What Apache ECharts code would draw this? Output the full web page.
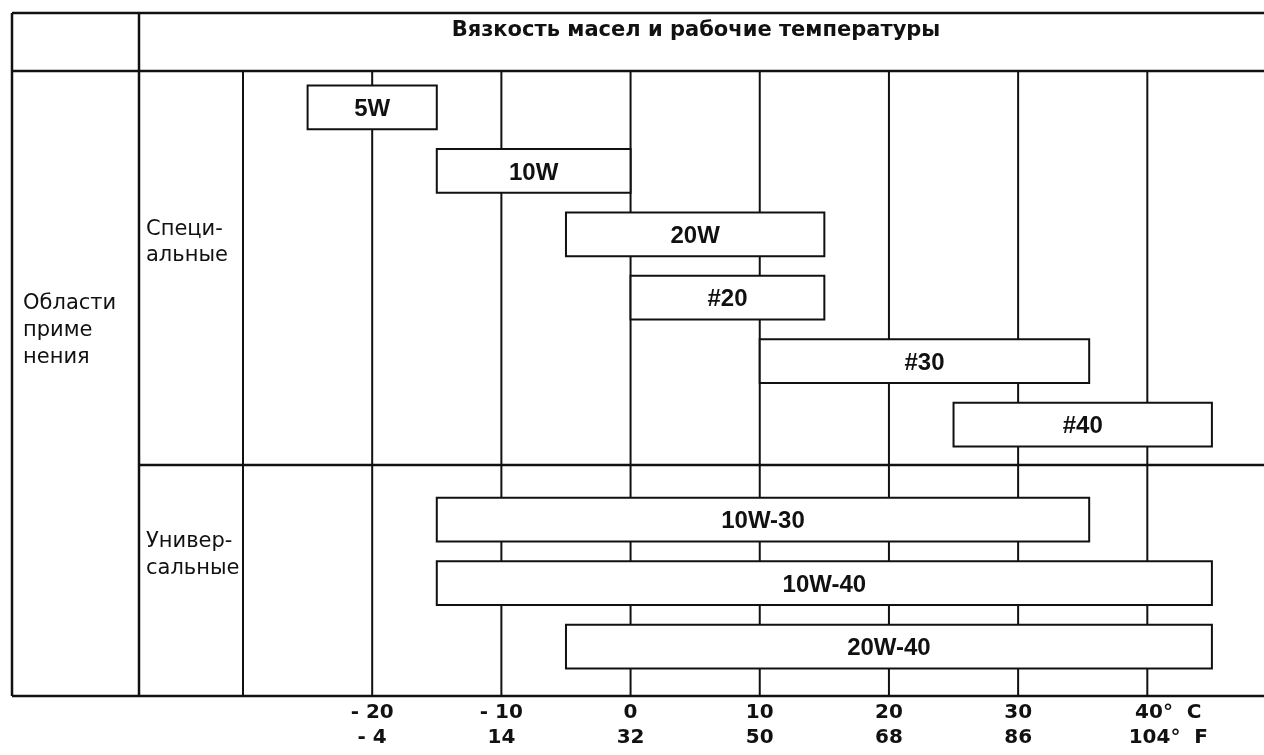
<!DOCTYPE html>
<html>
<head>
<meta charset="utf-8">
<script src="https://cdn.jsdelivr.net/npm/echarts@6/dist/echarts.min.js"></script>
<style>
  html, body { margin: 0; padding: 0; background: #fff; overflow: hidden; }
  #chart { width: 1264px; height: 755px; }
</style>
</head>
<body>
<div id="chart"></div>
<script>
// Oil grades and their working temperature ranges, °C
const oilNames = ['5W', '10W', '20W', '#20', '#30', '#40', '10W-30', '10W-40', '20W-40'];
const tempFrom = [-25, -15, -5, 0, 10, 25, -15, -15, -5];
const tempTo   = [-15, 0, 15, 15, 35.5, 45, 35.5, 45, 45];
// 0 = special-purpose oils, 1 = multi-purpose oils
const oilGroup = [0, 0, 0, 0, 0, 0, 1, 1, 1];
const groupNames = ['Специ-\nальные', 'Универ-\nсальные'];

// Temperature scale: gridlines and tick labels
const celsiusTicks = [-20, -10, 0, 10, 20, 30, 40];
const celsiusLabels = ['- 20', '- 10', '0', '10', '20', '30', '40°  C'];
const fahrenheitLabels = ['- 4', '14', '32', '50', '68', '86', '104°  F'];

const title = 'Вязкость масел и рабочие температуры';
const areaTitle = 'Области\nприме\nнения';

const INK = '#111';
const SANS = '"Liberation Sans", Arial, Helvetica, sans-serif';
const WIDE = '"DejaVu Sans", Verdana, sans-serif';

// Row slot: consecutive within a group, half-row gap between groups
const rows = oilNames.map((name, i) => [tempFrom[i], tempTo[i], i + 0.5 * oilGroup[i], name]);

const chart = echarts.init(document.getElementById('chart'), null, { renderer: 'canvas' });

const line = (x1, y1, x2, y2, w) => ({
  type: 'line', silent: true, z: 10,
  shape: { x1, y1, x2, y2 },
  style: { stroke: INK, lineWidth: w || 2 }
});
const label = (text, x, y, font, align, vAlign, lh) => ({
  type: 'text', silent: true, z: 10,
  style: {
    text, x, y, fill: INK, align: align || 'left', verticalAlign: vAlign || 'top',
    font, lineHeight: lh
  }
});

chart.setOption({
  backgroundColor: '#fff',
  animation: false,
  grid: { left: 243, right: 0, top: 71, bottom: 59, containLabel: false },
  xAxis: {
    type: 'value',
    min: -30, max: 48.8, interval: 10,
    axisLine: { show: false },
    axisTick: { show: false },
    splitLine: { show: false },
    axisLabel: {
      margin: 4,
      showMinLabel: true, showMaxLabel: true,
      formatter: (v) => {
        const i = celsiusTicks.findIndex(t => Math.abs(t - v) < 1e-6);
        if (i < 0) return '';
        const key = i === celsiusTicks.length - 1 ? 'e' : 'n';
        return '{' + key + '|' + celsiusLabels[i] + '}\n{' + key + '|' + fahrenheitLabels[i] + '}';
      },
      rich: {
        n: { fontFamily: WIDE, fontWeight: 'bold', fontSize: 20, color: INK, lineHeight: 25 },
        e: { fontFamily: WIDE, fontWeight: 'bold', fontSize: 20, color: INK, lineHeight: 25, padding: [0, 0, 0, 42] }
      }
    }
  },
  yAxis: {
    type: 'value', inverse: true,
    min: -0.575, max: 9.28,
    show: false,
    splitLine: { show: false }
  },
  series: [{
    // vertical temperature gridlines, full height of the plot
    type: 'custom',
    z: 1,
    silent: true,
    data: celsiusTicks.map(t => [t]),
    encode: { x: 0 },
    renderItem: (params, api) => {
      const x = api.coord([api.value(0), 0])[0];
      const cs = params.coordSys;
      return {
        type: 'line',
        shape: { x1: x, y1: cs.y, x2: x, y2: cs.y + cs.height },
        style: { stroke: INK, lineWidth: 2 }
      };
    }
  }, {
    // temperature range of each oil grade
    type: 'custom',
    z: 2,
    data: rows,
    encode: { x: [0, 1], y: 2 },
    renderItem: (params, api) => {
      const a = api.coord([api.value(0), api.value(2)]);
      const b = api.coord([api.value(1), api.value(2)]);
      const h = api.size([0, 0.69])[1];
      const name = oilNames[params.dataIndex];
      return {
        type: 'group',
        children: [{
          type: 'rect',
          shape: { x: a[0], y: a[1] - h / 2, width: b[0] - a[0], height: h },
          style: { fill: '#fff', stroke: INK, lineWidth: 2 }
        }, {
          type: 'text',
          style: {
            text: name, x: (a[0] + b[0]) / 2, y: a[1] + 2,
            align: 'center', verticalAlign: 'middle',
            font: 'bold 24px ' + SANS, fill: INK
          }
        }]
      };
    }
  }],
  graphic: [
    // table frame
    line(12, 13, 1264, 13, 2.5),
    line(12, 71, 1264, 71, 2.5),
    line(12, 696, 1264, 696, 2.5),
    line(12, 13, 12, 696, 2.5),
    line(139, 13, 139, 696, 2.5),
    line(243, 71, 243, 696, 2),
    line(139, 465, 1264, 465, 2.5),
    // headings
    label(title, 696, 31, 'bold 21px ' + WIDE, 'center', 'middle', 24),
    label(areaTitle, 23, 290, '21px ' + WIDE, 'left', 'top', 27),
    label(groupNames[0], 146, 217, '21px ' + WIDE, 'left', 'top', 26),
    label(groupNames[1], 146, 528, '21px ' + WIDE, 'left', 'top', 27)
  ]
});
</script>
</body>
</html>
